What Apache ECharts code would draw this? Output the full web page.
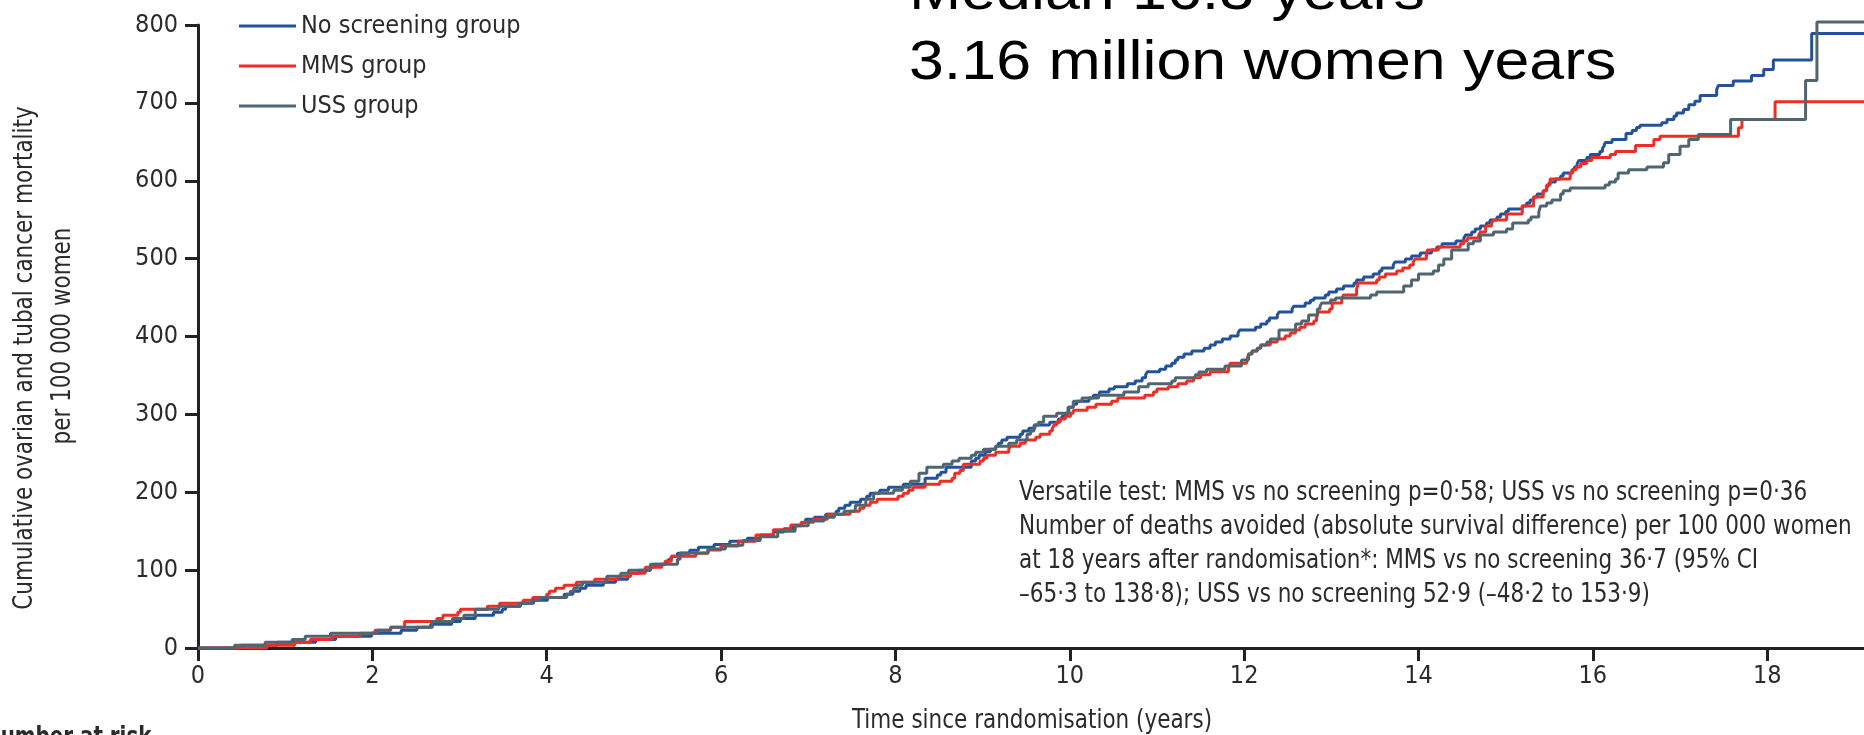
<!DOCTYPE html>
<html><head><meta charset="utf-8">
<script src="https://cdn.jsdelivr.net/npm/echarts@6/dist/echarts.min.js"></script>
<style>html,body{margin:0;padding:0;background:#fff;overflow:hidden}#c{width:1864px;height:735px}</style>
</head><body><div id="c"></div>
<script>
const xTicks = [0, 2, 4, 6, 8, 10, 12, 14, 16, 18];
const yTicks = [0, 100, 200, 300, 400, 500, 600, 700, 800];
const seriesNames = ['No screening group', 'MMS group', 'USS group'];
const xTitle = 'Time since randomisation (years)';
const yTitle = ['Cumulative ovarian and tubal cancer mortality', 'per 100 000 women'];
const noteLines = [
  'Versatile test: MMS vs no screening p=0·58; USS vs no screening p=0·36',
  'Number of deaths avoided (absolute survival difference) per 100 000 women',
  'at 18 years after randomisation*: MMS vs no screening 36·7 (95% CI',
  '–65·3 to 138·8); USS vs no screening 52·9 (–48·2 to 153·9)'
];
const headline = ['Median 16.3 years', '3.16 million women years'];
const riskLabel = 'Number at risk';

// [years, cumulative mortality per 100 000] — step points
const noScreening = [[0,0],[0.49,3.4],[0.91,7.3],[1.35,11],[1.58,15],[1.99,18.9],[2.33,22.7],[2.51,26.6],[2.67,30.4],[2.91,34],[3.01,38],[3.18,42],[3.39,45.9],[3.49,49.7],[3.53,53.6],[3.70,57.4],[3.85,61.3],[4.01,65],[4.20,69],[4.30,72.8],[4.38,76.7],[4.45,80.6],[4.65,84.4],[4.79,88.3],[4.93,92],[4.96,96],[5.06,99.8],[5.19,103.7],[5.23,107.5],[5.36,111.4],[5.40,114],[5.43,117.8],[5.50,121.7],[5.64,125.5],[5.74,129.4],[5.92,133],[6.1,137],[6.3,141],[6.45,145],[6.6,149],[6.72,153],[6.83,157],[6.92,161],[6.97,165.3],[7.07,168],[7.2,171.8],[7.32,175.6],[7.35,179.5],[7.42,183.3],[7.48,187.2],[7.60,191],[7.67,195],[7.71,198.8],[7.82,202.6],[7.92,206.5],[8.09,210.3],[8.34,218],[8.48,222],[8.52,225.8],[8.58,232],[8.87,240],[8.92,243.8],[8.96,247.6],[9.03,252],[9.09,255.3],[9.15,259],[9.18,263],[9.22,267],[9.28,270.7],[9.43,274.6],[9.46,278.5],[9.53,282.3],[9.60,286.2],[9.77,290],[9.87,294],[9.91,297.7],[9.95,301.6],[9.98,309],[10.04,313],[10.08,317],[10.22,321],[10.27,324.7],[10.34,328.6],[10.45,332.5],[10.51,335.5],[10.66,339.3],[10.75,343],[10.83,347],[10.87,351],[10.89,354.7],[11.03,358.1],[11.10,362],[11.17,365.8],[11.21,369.7],[11.24,373.5],[11.31,377.4],[11.40,381.3],[11.54,385],[11.61,389],[11.67,392.8],[11.75,396.7],[11.84,400.5],[11.93,404.4],[11.95,408.3],[12.13,412],[12.19,416],[12.26,419.8],[12.29,423.7],[12.38,427.5],[12.40,431.4],[12.55,435.3],[12.57,439],[12.70,443],[12.76,446.5],[12.80,449.4],[12.93,453.3],[12.97,457],[13.06,461],[13.14,464.8],[13.26,468.7],[13.29,472.5],[13.37,476.4],[13.48,480.3],[13.55,484],[13.58,488],[13.71,491.8],[13.73,495.7],[13.85,499.5],[13.92,503.4],[14.02,507.2],[14.15,511],[14.21,515],[14.27,519],[14.43,522.7],[14.52,526.5],[14.54,530.4],[14.61,534.2],[14.65,538],[14.71,542],[14.78,545.8],[14.82,549.7],[14.90,553.5],[14.94,557.4],[15.0,560.5],[15.03,563.8],[15.19,567.7],[15.24,571.5],[15.28,575.4],[15.32,579.2],[15.36,583],[15.43,587],[15.47,590.8],[15.49,594.7],[15.51,598.5],[15.57,602.4],[15.63,606.2],[15.66,610],[15.76,614],[15.79,618],[15.82,622],[15.84,626],[15.93,629.8],[15.97,633.7],[16.08,637.5],[16.11,641.4],[16.13,645],[16.14,649],[16.22,653],[16.38,660.6],[16.45,664.5],[16.50,668.4],[16.54,671.4],[16.79,674.4],[16.85,678.6],[16.93,683],[16.96,687],[17.04,691.5],[17.10,697.5],[17.17,702],[17.23,709.5],[17.42,717],[17.44,722.4],[17.61,728],[17.82,735],[17.96,743],[18.07,755],[18.51,789],[19.11,789]];
const mms = [[0,0],[0.79,3.4],[1.11,7.3],[1.29,11],[1.54,15],[1.86,18.9],[2.03,22.7],[2.21,26.6],[2.37,34],[2.74,38],[2.81,42],[2.98,45.9],[3.01,49.7],[3.32,53.6],[3.46,57.4],[3.73,61.3],[3.84,65],[4.00,69],[4.03,72.8],[4.10,76.7],[4.20,80.6],[4.34,84.4],[4.55,88.3],[4.82,92],[4.96,96],[5.13,103.7],[5.32,107.5],[5.36,111.4],[5.43,117.8],[5.71,121.7],[5.85,126],[6.0,131],[6.2,137],[6.4,145],[6.6,152],[6.8,158],[6.92,161.5],[7.06,165.3],[7.22,171.8],[7.48,175.6],[7.59,179.5],[7.64,183.3],[7.71,187.2],[7.79,191],[8.03,195],[8.09,198.8],[8.15,202.6],[8.20,206.5],[8.34,210.3],[8.51,214],[8.65,218],[8.68,224.4],[8.74,228],[8.78,236],[8.97,240],[9.01,243.8],[9.05,247.6],[9.15,251.5],[9.30,255.3],[9.32,259],[9.43,263],[9.49,267],[9.61,270.7],[9.66,274.6],[9.77,278.5],[9.80,282.3],[9.82,286.2],[9.85,290],[9.89,294],[9.95,297.7],[10.01,301.6],[10.04,305.4],[10.20,309],[10.30,313],[10.48,317],[10.55,321],[10.86,324.7],[10.96,328.6],[11.00,332.5],[11.13,335.5],[11.24,339.3],[11.34,343],[11.42,347],[11.50,350.8],[11.61,354.7],[11.82,358.5],[11.83,362],[11.84,365.8],[12.03,369.7],[12.05,377.4],[12.09,381.3],[12.15,385],[12.19,389],[12.30,392.8],[12.38,396.7],[12.47,400.5],[12.53,404.4],[12.59,408.3],[12.64,412],[12.70,416],[12.80,419.8],[12.83,423.7],[12.84,427.5],[12.85,431.4],[12.98,435.3],[13.01,443],[13.12,449],[13.14,453.3],[13.29,461],[13.31,468.7],[13.52,472.5],[13.55,476.4],[13.62,480.3],[13.75,484],[13.82,488],[13.90,491.8],[13.94,495.7],[13.96,499.5],[14.09,503.4],[14.10,511],[14.23,515],[14.48,519],[14.52,522.7],[14.56,526.5],[14.69,530.4],[14.71,534.2],[14.77,542],[14.84,545.8],[14.86,549.7],[15.01,557.4],[15.19,567.7],[15.32,579.2],[15.43,587],[15.47,594.7],[15.51,602.4],[15.74,610],[15.77,614],[15.81,617.8],[15.86,622],[15.93,626],[15.99,629.8],[16.20,633.7],[16.26,637.5],[16.49,645.2],[16.70,653],[16.77,657.2],[17.67,668],[17.71,678.6],[18.09,701.4],[19.11,701.4]];
const uss = [[0,0],[0.42,3.4],[0.77,7.3],[1.08,11],[1.23,15],[1.52,18.9],[2.06,22.7],[2.21,26.6],[2.69,34],[2.92,38],[3.05,42],[3.18,49.7],[3.45,53.6],[3.69,57.4],[3.83,61.3],[3.93,65],[4.23,69],[4.27,72.8],[4.31,76.7],[4.35,80.6],[4.41,84.4],[4.69,92],[4.85,96],[4.94,99.8],[5.19,107.5],[5.50,114],[5.53,122],[5.85,127],[6.05,132],[6.25,138],[6.45,143],[6.65,150],[6.85,157],[7.0,163],[7.18,168],[7.30,171.8],[7.41,175.6],[7.54,183.3],[7.66,191],[7.75,198.8],[7.98,202.6],[8.08,206.5],[8.17,214],[8.27,224.4],[8.36,232],[8.55,236],[8.65,240],[8.73,243.8],[8.87,247.6],[8.92,251.5],[9.01,255.3],[9.15,259],[9.30,263],[9.39,267],[9.51,274.6],[9.55,278.5],[9.59,286.2],[9.64,290],[9.70,297.7],[9.85,301.6],[9.99,309],[10.04,317],[10.14,321],[10.33,324.7],[10.62,328.6],[10.79,335.5],[10.90,339.3],[11.17,343],[11.21,347],[11.44,350.8],[11.48,354.3],[11.57,358.1],[11.78,362],[11.97,369.7],[12.05,377.4],[12.09,381.3],[12.15,385],[12.19,389],[12.26,392.8],[12.30,396.7],[12.40,408.3],[12.59,416],[12.66,419.8],[12.74,427.5],[12.84,435.3],[12.87,439],[12.89,443],[12.99,446.8],[13.05,449.4],[13.45,453.3],[13.52,457],[13.83,464.8],[13.92,472.5],[14.00,480.3],[14.17,484],[14.23,491.8],[14.29,499.5],[14.38,511],[14.57,519],[14.63,522.7],[14.71,530.4],[14.86,534.2],[15.01,538],[15.08,545.8],[15.26,549.7],[15.29,553.5],[15.38,560],[15.40,567.7],[15.47,571.5],[15.53,575.4],[15.63,583],[15.66,587],[15.74,590.8],[16.14,594.7],[16.19,598.5],[16.26,602.4],[16.29,610],[16.41,614],[16.62,617.8],[16.81,623],[16.87,633.6],[17.00,644.4],[17.10,653],[17.21,659.4],[17.58,678.6],[18.44,728.8],[18.57,804],[19.11,804]];

const colors = ['#23529c', '#ed2d26', '#4f6670'];
const F = '"Liberation Sans Narrow","DejaVu Sans Condensed",sans-serif';
const TXT = '#2b2b2b';
const AX = '#222222';
const SQ = 0.92; // horizontal squeeze for the condensed caption font

const chart = echarts.init(document.getElementById('c'), null, {renderer: 'canvas'});
const dataSets = [noScreening, mms, uss];

chart.setOption({
  animation: false,
  backgroundColor: '#ffffff',
  grid: {left: 198, right: 0, top: 25, bottom: 87, containLabel: false},
  legend: {
    orient: 'vertical', left: 234, top: 6, icon: 'rect',
    itemWidth: 57, itemHeight: 3, itemGap: 10,
    textStyle: {fontFamily: F, fontSize: 25, color: TXT, lineHeight: 30},
    data: seriesNames
  },
  xAxis: {
    type: 'value', min: 0, max: 19.11,
    axisLine: {show: true, lineStyle: {color: AX, width: 3}},
    axisTick: {show: true, length: 13, lineStyle: {color: AX, width: 3}, customValues: xTicks},
    axisLabel: {fontFamily: F, fontSize: 25, color: TXT, margin: 16, customValues: xTicks},
    splitLine: {show: false}
  },
  yAxis: {
    type: 'value', min: 0, max: 800, interval: 100,
    axisLine: {show: true, onZero: false, lineStyle: {color: AX, width: 3}},
    axisTick: {show: true, length: 13, lineStyle: {color: AX, width: 3}, customValues: yTicks},
    axisLabel: {fontFamily: F, fontSize: 25, color: TXT, margin: 20, customValues: yTicks},
    splitLine: {show: false}
  },
  series: seriesNames.map((n, i) => ({
    name: n, type: 'line', step: 'end', data: dataSets[i],
    showSymbol: false, symbol: 'none', clip: false,
    lineStyle: {color: colors[i], width: 3}, itemStyle: {color: colors[i]},
    z: 2 + i
  })),
  graphic: [
    {type: 'text', x: 25, y: 358, rotation: Math.PI / 2, scaleX: SQ,
     style: {text: yTitle[0], font: '26px ' + F, fill: TXT, textAlign: 'center', textVerticalAlign: 'middle'}},
    {type: 'text', x: 63, y: 336, rotation: Math.PI / 2, scaleX: SQ,
     style: {text: yTitle[1], font: '26px ' + F, fill: TXT, textAlign: 'center', textVerticalAlign: 'middle'}},
    {type: 'text', x: 1032, y: 721, scaleX: SQ,
     style: {text: xTitle, font: '26px ' + F, fill: TXT, textAlign: 'center', textVerticalAlign: 'middle'}},
    {type: 'text', x: 1019, y: 476, scaleX: SQ,
     style: {text: noteLines.join('\n'), font: '26px ' + F, fill: TXT, lineHeight: 34, textAlign: 'left', textVerticalAlign: 'top'}},
    {type: 'text', x: 909, y: -6, scaleX: 1.14,
     style: {text: headline[0], font: '55px "Liberation Sans",Arial,sans-serif', fill: '#000', textAlign: 'left', textVerticalAlign: 'middle'}},
    {type: 'text', x: 909, y: 64, scaleX: 1.14,
     style: {text: headline[1], font: '55px "Liberation Sans",Arial,sans-serif', fill: '#000', textAlign: 'left', textVerticalAlign: 'middle'}},
    {type: 'text', x: -16, y: 725, scaleX: 0.85,
     style: {text: riskLabel, font: 'bold 26px ' + F, fill: TXT, textAlign: 'left', textVerticalAlign: 'top'}}
  ]
});
</script>
</body></html>
